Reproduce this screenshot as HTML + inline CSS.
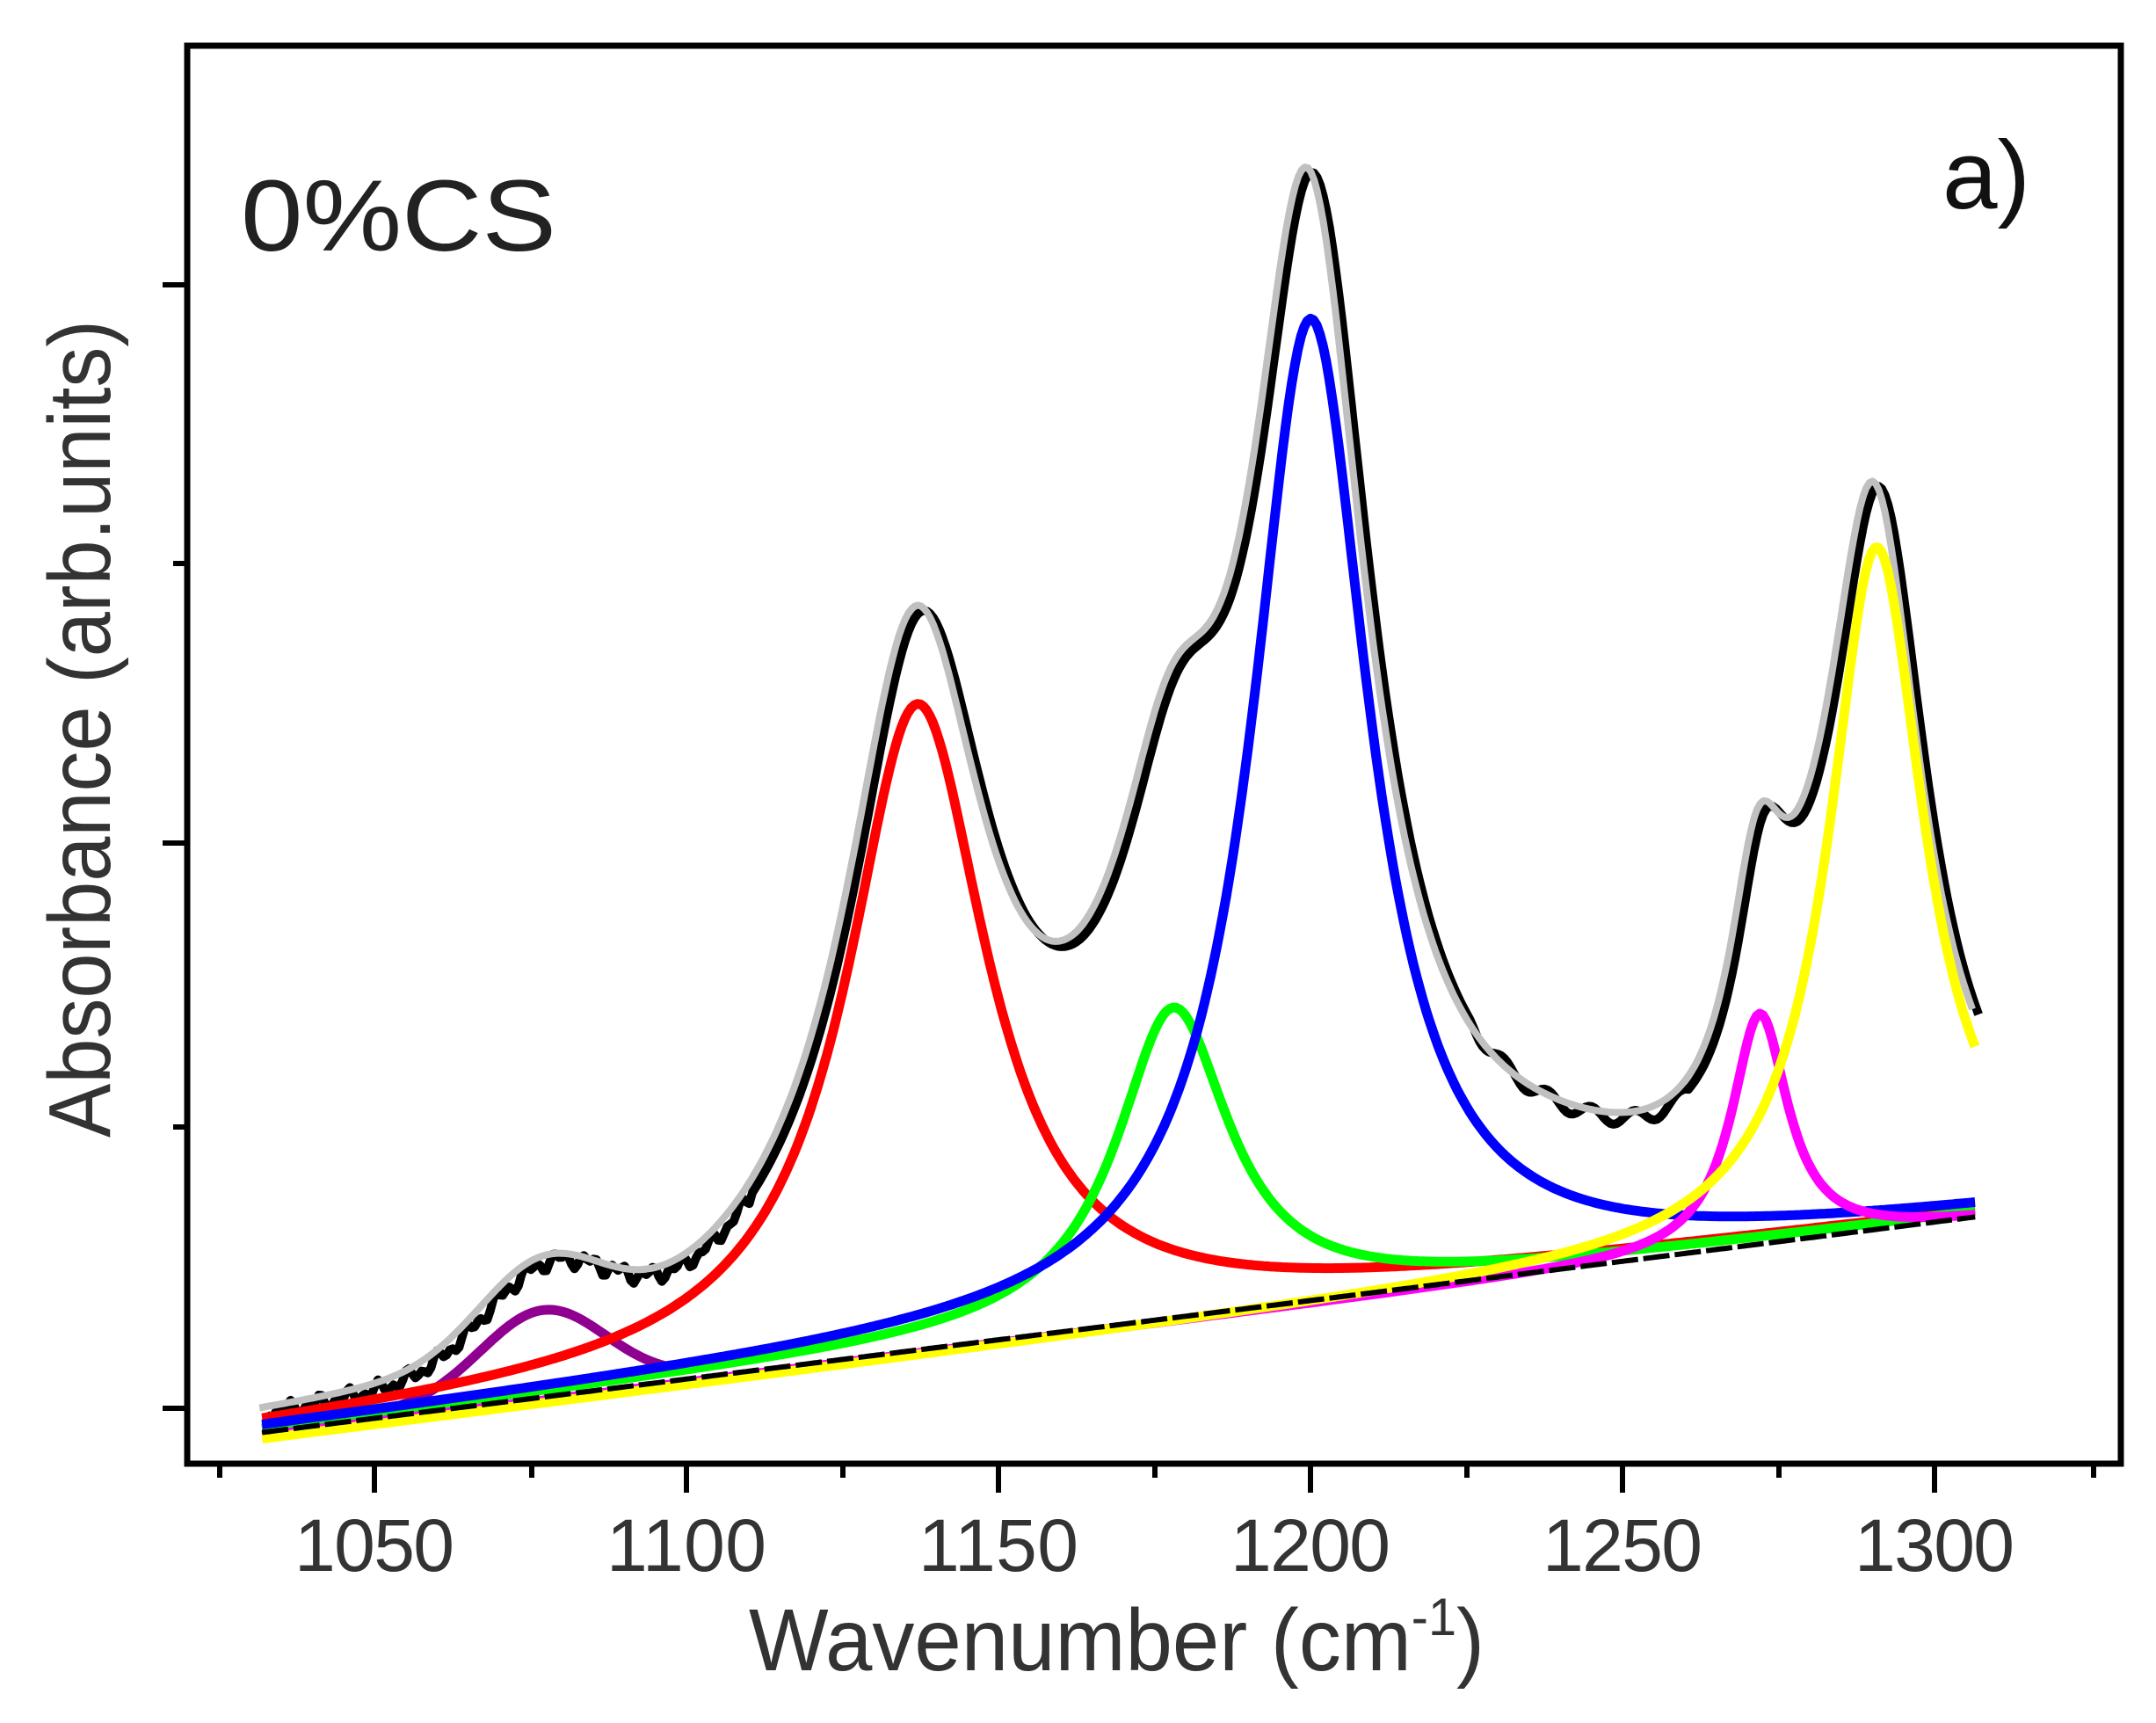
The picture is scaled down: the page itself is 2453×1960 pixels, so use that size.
<!DOCTYPE html>
<html><head><meta charset="utf-8">
<style>html,body{margin:0;padding:0;background:#fff}svg{display:block}</style>
</head><body>
<svg id="s" width="2453" height="1960" viewBox="0 0 2453 1960" xmlns="http://www.w3.org/2000/svg" font-family="Liberation Sans, Arial, sans-serif">
<rect width="2453" height="1960" fill="#fff"/>
<g id="curves"></g>
<rect x="213" y="52" width="2200" height="1613" fill="none" stroke="#000" stroke-width="7"/>
<g stroke="#000" stroke-width="6">
<line x1="185" y1="324" x2="213" y2="324"/><line x1="197" y1="641" x2="213" y2="641"/>
<line x1="185" y1="959" x2="213" y2="959"/><line x1="197" y1="1282" x2="213" y2="1282"/>
<line x1="185" y1="1602" x2="213" y2="1602"/>
<line x1="250" y1="1665" x2="250" y2="1681"/><line x1="426" y1="1665" x2="426" y2="1698"/>
<line x1="605" y1="1665" x2="605" y2="1681"/><line x1="781" y1="1665" x2="781" y2="1698"/>
<line x1="959" y1="1665" x2="959" y2="1681"/><line x1="1136" y1="1665" x2="1136" y2="1698"/>
<line x1="1314" y1="1665" x2="1314" y2="1681"/><line x1="1491" y1="1665" x2="1491" y2="1698"/>
<line x1="1669" y1="1665" x2="1669" y2="1681"/><line x1="1846" y1="1665" x2="1846" y2="1698"/>
<line x1="2024" y1="1665" x2="2024" y2="1681"/><line x1="2201" y1="1665" x2="2201" y2="1698"/>
<line x1="2382" y1="1665" x2="2382" y2="1681"/>
</g>
<g font-size="84" fill="#333" text-anchor="middle">
<text x="426" y="1787" textLength="182">1050</text>
<text x="781" y="1787" textLength="182">1100</text>
<text x="1136" y="1787" textLength="182">1150</text>
<text x="1491" y="1787" textLength="182">1200</text>
<text x="1846" y="1787" textLength="182">1250</text>
<text x="2201" y="1787" textLength="182">1300</text>
</g>
<text x="852" y="1900" font-size="100" fill="#333" textLength="837" lengthAdjust="spacingAndGlyphs">Wavenumber (cm<tspan font-size="60" dy="-40">-1</tspan><tspan dy="40">)</tspan></text>
<text transform="translate(125,829) rotate(-90)" text-anchor="middle" font-size="100" fill="#333" textLength="930" lengthAdjust="spacingAndGlyphs">Absorbance (arb.units)</text>
<text x="274" y="285" font-size="115" fill="#222" textLength="359" lengthAdjust="spacingAndGlyphs">0%CS</text>
<text x="2210" y="237" font-size="110" fill="#111" textLength="100" lengthAdjust="spacingAndGlyphs">a)</text>
</svg>
<script>
(function(){
var NS="http://www.w3.org/2000/svg",g=document.getElementById("curves");
function X(w){return 426+(w-1050)*7.1;}
function B(w){return 1626-(w-1031.4)*0.893;}
function L(w,c,h,hw){var d=(w-c)/hw;return h/(1+d*d);}
function G(w,c,h,s){var d=(w-c)/s;return h*Math.exp(-d*d/2);}
var comps={
 purple:function(w){return G(w,1077,95,10);},
 red:function(w){return L(w,1137,731,13.7);},
 green:function(w){return L(w,1178,349,11);},
 blue:function(w){return L(w,1200,1113,11.5);},
 magenta:function(w){return L(w,1272,266,5.5);},
 yellow:function(w){return L(w,1290.7,784,9.3);}
};
function sum(w){var s=0;for(var k in comps)s+=comps[k](w);return s+G(w,1175,65,45)+G(w,1280,45,6)+G(w,1240,22,14);}
function path(f,a,b,dx,dy){var p=[];for(var w=a;w<=b+0.001;w+=0.5){p.push((X(w)+(dx||0)).toFixed(1)+","+(B(w)-f(w)+(dy||0)).toFixed(1));}return "M"+p.join("L");}
function add(d,col,wd,extra){var e=document.createElementNS(NS,"path");e.setAttribute("d",d);e.setAttribute("fill","none");e.setAttribute("stroke",col);e.setAttribute("stroke-width",wd);e.setAttribute("stroke-linejoin","round");if(extra)for(var k in extra)e.setAttribute(k,extra[k]);g.appendChild(e);}
var a=1032,b=1306.5;
function data(w){var n=0;if(w<1110)n=6*Math.sin(w*1.3)+5*Math.sin(w*2.7);
 if(w>1225&&w<1260)n+=8*Math.sin(w*0.9);return sum(w)+n;}
add(path(data,a,b,4,3),"#000",10);
add(path(sum,a,b,-3,-3),"#c0c0c0",8);
add(path(comps.purple,a,1100),"#900090",11);
add(path(comps.red,a,b),"#ff0000",11);
add(path(comps.green,a,b),"#00ff00",11);
add(path(comps.blue,a,b),"#0000ff",11);
add(path(comps.magenta,a,b,0,8),"#ff00ff",11);
add(path(comps.yellow,a,b,0,12),"#ffff00",11);
add(path(function(){return 0;},a,b,0,4),"#000",6,{"stroke-dasharray":"30 6"});
})();
</script>
</body></html>
